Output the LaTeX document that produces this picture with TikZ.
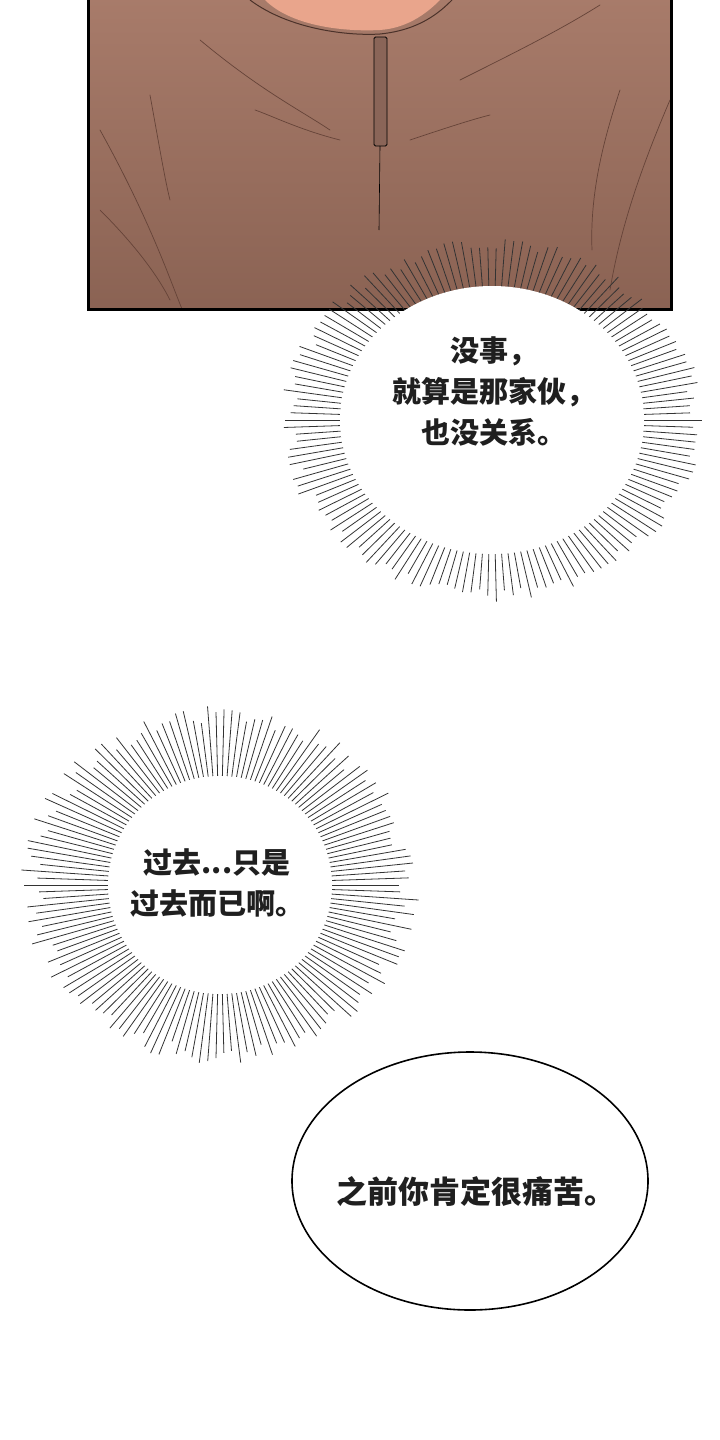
\documentclass[tikz,border=0pt]{standalone}
\usepackage{fontspec}
\newfontfamily\cjk{Noto Sans CJK SC}
\definecolor{hood}{HTML}{A37462}
\definecolor{hooddark}{HTML}{7E5446}
\definecolor{skin}{HTML}{E9A58C}
\definecolor{zip}{HTML}{8A6558}
\tikzset{
  spike/.style={draw=black!80, line width=0.8pt},
  txt/.style={font=\cjk\bfseries\fontsize{29}{41}\selectfont, align=center, text=black!88},
  fold/.style={draw=hooddark!80!black, line width=0.7pt, line cap=round}
}
\newcommand{\burst}[6]{% cx cy rin_x rin_y rout_x rout_y
  \foreach \a in {0,2.4,...,357.6}{
    \pgfmathsetmacro{\f}{0.75+0.25*rnd}
    \draw[spike] ({#1+#3*cos(\a)},{#2+#4*sin(\a)}) -- ({#1+(#3+(#5-#3)*\f)*cos(\a)},{#2+(#4+(#6-#4)*\f)*sin(\a)});
  }
  \fill[white] (#1,#2) ellipse [x radius=#3+4pt, y radius=#4+4pt];
}
\begin{document}
\begin{tikzpicture}[x=1pt,y=1pt]
\pgfmathsetseed{7}
\useasboundingbox (0,0) rectangle (720,-1440);
\fill[white] (0,0) rectangle (720,-1440);
% panel
\begin{scope}
\clip (88,0) rectangle (671,-309);
\shade[top color=hood!95!white, bottom color=hood!85!black] (88,0) rectangle (671,-309);
\fill[skin] (265,0) .. controls (290,-25) and (340,-32) .. (380,-30) .. controls (410,-28) and (430,-10) .. (440,0) -- cycle;
\draw[line width=1pt, hooddark!60!black] (250,0) .. controls (290,-30) and (350,-36) .. (380,-34) .. controls (420,-30) and (440,-12) .. (452,0);
\draw[fold] (200,-40) .. controls (260,-90) and (300,-110) .. (330,-130);
\draw[fold] (460,-80) .. controls (520,-50) and (560,-30) .. (600,-5);
\draw[fold] (100,-130) .. controls (150,-220) and (170,-280) .. (182,-309);
\draw[fold] (100,-210) .. controls (140,-250) and (160,-280) .. (170,-300);
\draw[fold] (150,-95) .. controls (160,-150) and (165,-180) .. (170,-200);
\draw[fold] (620,-90) .. controls (600,-150) and (590,-200) .. (592,-250);
\draw[fold] (670,-100) .. controls (640,-170) and (620,-230) .. (610,-290);
\draw[fold] (340,-140) .. controls (300,-130) and (270,-115) .. (255,-110);
\draw[fold] (410,-140) .. controls (440,-130) and (470,-120) .. (490,-115);
\end{scope}
\draw[fill=zip, line width=0.8pt, rounded corners=1.5pt] (374,-37) rectangle (387,-146);
\draw[line width=0.6pt] (380,-146) -- (379,-230);
\draw[line width=3pt] (88,2) -- (88,-309) -- (671,-309) -- (671,2);
% bursts
\burst{492}{-420}{148}{130}{212}{182}
\node[txt] (t1) at (494,-391) {没事，\\就算是那家伙，\\也没关系。};
\burst{220}{-885}{108}{105}{200}{180}
\node[txt] (t2) at (217,-883) {过去...只是\\过去而已啊。};
% ellipse bubble
\draw[line width=1.6pt, fill=white] (470,-1181) ellipse [x radius=178, y radius=129];
\node[txt, font=\cjk\bfseries\fontsize{31}{41}\selectfont] (t3) at (476,-1192) {之前你肯定很痛苦。};
\end{tikzpicture}
\end{document}
